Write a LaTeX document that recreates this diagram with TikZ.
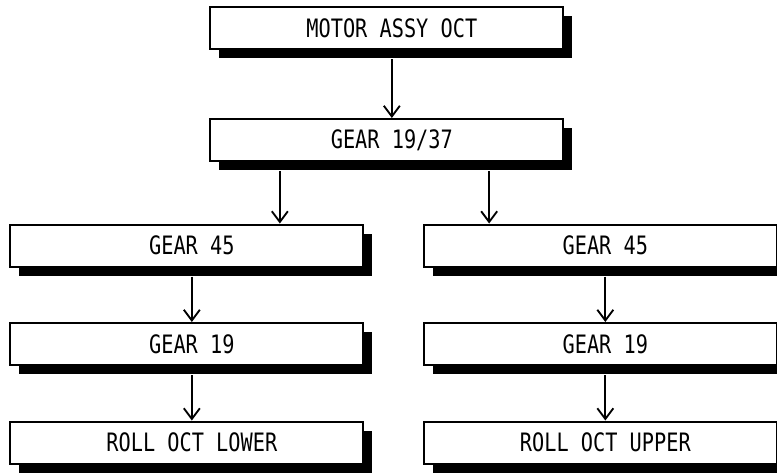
\documentclass[tikz,border=0pt]{standalone}
\usepackage{fontspec}
\newfontfamily\partfont[FakeStretch=0.8]{DejaVu Sans Mono}
\usetikzlibrary{arrows.meta,shadows}

\begin{document}
\begin{tikzpicture}[
    x=0.75pt, y=-0.75pt,
    part/.style={draw, line width=1.5pt, fill=white, minimum width=264.75pt, minimum height=31.5pt, inner sep=0pt, font=\partfont\fontsize{19}{21}\selectfont,
        drop shadow={shadow xshift=6.75pt, shadow yshift=-6.75pt, fill=black, opacity=1}},
    link/.style={-{Straight Barb[length=8pt, width=12pt, line width=1.4pt]}, line width=1.4pt}
]
\useasboundingbox (0,0) rectangle (777,472);
\node[part] (motor) at (386.5, 28) {\hspace*{8pt}MOTOR ASSY OCT};
\node[part] (g1937) at (386.5, 140) {\hspace*{8pt}GEAR 19/37};
\node[part] (g45l) at (186.5, 245.5) {\hspace*{8pt}GEAR 45};
\node[part] (g45r) at (600, 245.5) {\hspace*{8pt}GEAR 45};
\node[part] (g19l) at (186.5, 344) {\hspace*{8pt}GEAR 19};
\node[part] (g19r) at (600, 344) {\hspace*{8pt}GEAR 19};
\node[part] (rolll) at (186.5, 442.5) {\hspace*{8pt}ROLL OCT LOWER};
\node[part] (rollu) at (600, 442.5) {\hspace*{8pt}ROLL OCT UPPER};
% split below the gear 19/37
\coordinate (splitl) at ([xshift=-80pt, yshift=-6.75pt]g1937.south);
\coordinate (splitr) at ([xshift=77pt, yshift=-6.75pt]g1937.south);
\draw[link] ([xshift=4pt, yshift=-6.75pt]motor.south) -- ([xshift=4pt]g1937.north);
\draw[link] (splitl) -- (splitl |- g45l.north);
\draw[link] (splitr) -- (splitr |- g45r.north);
\foreach \a/\b in {g45l/g19l, g19l/rolll, g45r/g19r, g19r/rollu}
    \draw[link] ([xshift=4pt, yshift=-6.75pt]\a.south) -- ([xshift=4pt]\b.north);
\end{tikzpicture}
\end{document}
